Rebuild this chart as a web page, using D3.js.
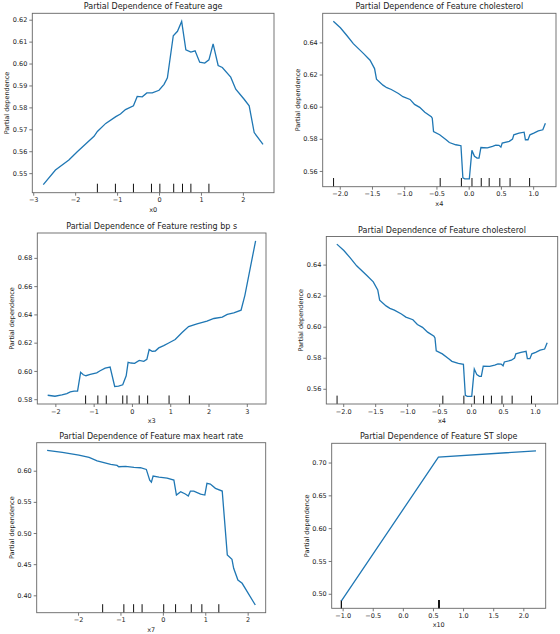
<!DOCTYPE html>
<html lang="en">
<head>
<meta charset="UTF-8">
<title>Partial Dependence</title>
<style>
  body { margin: 0; background: #fff; }
  svg text { font-family: "DejaVu Sans", sans-serif; fill: #222; }
</style>
</head>
<body>
<div id="chart"></div>
<script src="https://d3js.org/d3.v7.min.js"></script>
<script>
// ---- data ----
// age (x0)
var ageX = [-2.76, -2.47, -2.15, -1.95, -1.75, -1.55, -1.47, -1.27, -1.03, -0.92, -0.80, -0.61, -0.52, -0.40, -0.29, -0.16, 0.0, 0.12, 0.2, 0.34, 0.44, 0.54, 0.64, 0.76, 0.86, 0.97, 1.09, 1.19, 1.29, 1.41, 1.51, 1.71, 1.83, 2.03, 2.15, 2.27, 2.48];
var ageY = [0.5448, 0.5514, 0.556, 0.5598, 0.5633, 0.5668, 0.5690, 0.5727, 0.5758, 0.577, 0.579, 0.5807, 0.5850, 0.5848, 0.5866, 0.5866, 0.5878, 0.5905, 0.5935, 0.6127, 0.6147, 0.6192, 0.6063, 0.6052, 0.6058, 0.6006, 0.6002, 0.6017, 0.6090, 0.5991, 0.5982, 0.5938, 0.5883, 0.5837, 0.5807, 0.5685, 0.5631];
var ageDeciles = [-1.47, -1.04, -0.61, -0.18, 0.02, 0.35, 0.56, 0.76, 1.19];

// cholesterol (x4)
var cholX = [-2.10, -1.99, -1.89, -1.79, -1.63, -1.53, -1.46, -1.43, -1.33, -1.27, -1.20, -1.09, -1.02, -0.91, -0.84, -0.76, -0.68, -0.58, -0.565, -0.545, -0.45, -0.35, -0.30, -0.20, -0.12, -0.09, -0.06, 0.01, 0.05, 0.09, 0.13, 0.16, 0.19, 0.29, 0.37, 0.42, 0.47, 0.50, 0.52, 0.63, 0.68, 0.70, 0.78, 0.86, 0.88, 0.92, 0.95, 1.01, 1.08, 1.15, 1.19];
var cholY = [0.6532, 0.6491, 0.6443, 0.6392, 0.633, 0.6289, 0.6237, 0.6171, 0.6134, 0.6118, 0.6107, 0.6082, 0.6062, 0.6045, 0.6014, 0.5996, 0.5965, 0.5938, 0.5928, 0.5845, 0.5825, 0.5794, 0.5777, 0.5763, 0.5757, 0.5557, 0.5551, 0.5551, 0.5728, 0.5691, 0.5680, 0.5680, 0.5746, 0.5744, 0.5753, 0.5761, 0.5759, 0.5748, 0.5773, 0.5784, 0.5798, 0.5825, 0.5835, 0.5841, 0.5794, 0.5794, 0.5825, 0.5835, 0.5849, 0.5856, 0.5897];
var cholDeciles = [-2.096, -0.442, -0.113, 0.051, 0.195, 0.318, 0.483, 0.642, 0.945];

// resting bp s (x3)
var bpX = [-2.20, -2.01, -1.83, -1.70, -1.61, -1.51, -1.42, -1.34, -1.27, -1.20, -1.09, -0.92, -0.83, -0.70, -0.57, -0.45, -0.35, -0.24, -0.15, -0.10, -0.02, 0.07, 0.19, 0.31, 0.39, 0.45, 0.53, 0.61, 0.70, 0.83, 0.96, 1.13, 1.31, 1.48, 1.70, 1.96, 2.14, 2.36, 2.49, 2.66, 2.85, 2.95, 3.23];
var bpY = [0.5828, 0.5821, 0.5831, 0.5840, 0.5852, 0.5857, 0.5857, 0.5990, 0.5973, 0.5966, 0.5975, 0.5987, 0.6001, 0.6020, 0.6027, 0.5890, 0.5892, 0.5902, 0.5966, 0.6061, 0.6056, 0.6054, 0.6075, 0.6068, 0.6082, 0.6151, 0.6139, 0.6141, 0.6163, 0.6179, 0.6198, 0.6222, 0.6272, 0.6314, 0.6333, 0.6352, 0.6371, 0.6381, 0.6400, 0.6411, 0.6430, 0.6535, 0.6921];
var bpDeciles = [-1.21, -0.89, -0.67, -0.24, -0.13, 0.19, 0.41, 0.97, 1.50];

// max heart rate (x7)
var hrX = [-2.73, -2.37, -1.98, -1.74, -1.55, -1.23, -1.08, -1.04, -0.88, -0.68, -0.53, -0.39, -0.31, -0.27, -0.23, -0.09, 0.10, 0.26, 0.32, 0.42, 0.53, 0.60, 0.65, 0.73, 0.89, 0.99, 1.04, 1.12, 1.24, 1.40, 1.52, 1.63, 1.67, 1.77, 1.87, 2.18];
var hrY = [0.6326, 0.6294, 0.6251, 0.6214, 0.6160, 0.6102, 0.6086, 0.6064, 0.6070, 0.6053, 0.6048, 0.6021, 0.5850, 0.5818, 0.5914, 0.5898, 0.5882, 0.5850, 0.5610, 0.5663, 0.5626, 0.5594, 0.5674, 0.5674, 0.5626, 0.5610, 0.5797, 0.5786, 0.5717, 0.5674, 0.4647, 0.4578, 0.4433, 0.4246, 0.4193, 0.3845];
var hrDeciles = [-1.42, -0.92, -0.69, -0.49, 0.02, 0.30, 0.67, 0.92, 1.32];

// ST slope (x10)
var stX = [-1.02, 0.59, 2.21];
var stY = [0.4893, 0.7082, 0.7179];
var stDeciles = [-1.02, -1.02, -1.02, -1.02, 0.60, 0.60, 0.60, 0.60, 0.60];

// tick labels
var ticksInt5 = [-3, -2, -1, 0, 1, 2];
var ticksInt6 = [-2, -1, 0, 1, 2, 3];
var ticksInt4 = [-2, -1, 0, 1, 2];
var ticksHalfChol = [-2.0, -1.5, -1.0, -0.5, 0.0, 0.5, 1.0];
var ticksHalfSt = [-1.0, -0.5, 0.0, 0.5, 1.0, 1.5, 2.0];
var ageYTicks = [0.55, 0.56, 0.57, 0.58, 0.59, 0.60, 0.61, 0.62];
var cholYTicks = [0.56, 0.58, 0.60, 0.62, 0.64];
var bpYTicks = [0.58, 0.60, 0.62, 0.64, 0.66, 0.68];
var hrYTicks = [0.40, 0.45, 0.50, 0.55, 0.60];
var stYTicks = [0.50, 0.55, 0.60, 0.65, 0.70];

// ---- layout ----
var width = 560, height = 634;
var svg = d3.select("#chart").append("svg")
    .attr("width", width)
    .attr("height", height);

var panels = [
  {title: "Partial Dependence of Feature age", xlabel: "x0", x: ageX, y: ageY, dec: ageDeciles,
   xt: ticksInt5, xf: "d", yt: ageYTicks, yf: ".2f", box: [32.3, 13.3, 274, 192.7]},
  {title: "Partial Dependence of Feature cholesterol", xlabel: "x4", x: cholX, y: cholY, dec: cholDeciles,
   xt: ticksHalfChol, xf: ".1f", yt: cholYTicks, yf: ".2f", box: [322.7, 13.3, 556, 186.7]},
  {title: "Partial Dependence of Feature resting bp s", xlabel: "x3", x: bpX, y: bpY, dec: bpDeciles,
   xt: ticksInt6, xf: "d", yt: bpYTicks, yf: ".2f", box: [37.3, 233, 266, 404]},
  {title: "Partial Dependence of Feature cholesterol", xlabel: "x4", x: cholX, y: cholY, dec: cholDeciles,
   xt: ticksHalfChol, xf: ".1f", yt: cholYTicks, yf: ".2f", box: [326.3, 236.5, 557.7, 404]},
  {title: "Partial Dependence of Feature max heart rate", xlabel: "x7", x: hrX, y: hrY, dec: hrDeciles,
   xt: ticksInt4, xf: "d", yt: hrYTicks, yf: ".2f", box: [36.7, 442.7, 265.7, 612.7]},
  {title: "Partial Dependence of Feature ST slope", xlabel: "x10", x: stX, y: stY, dec: stDeciles,
   xt: ticksHalfSt, xf: ".1f", yt: stYTicks, yf: ".2f", box: [331.7, 443.3, 545.7, 608.3]}
];

// matplotlib style 5% margins
function padded(ext) {
  var m = (ext[1] - ext[0]) * 0.05;
  return [ext[0] - m, ext[1] + m];
}

panels.forEach(function(p) {
  var L = p.box[0], T = p.box[1], R = p.box[2], B = p.box[3];
  var g = svg.append("g");

  var x = d3.scaleLinear().domain(padded(d3.extent(p.x))).range([L, R]);
  var y = d3.scaleLinear().domain(padded(d3.extent(p.y))).range([B, T]);

  var xAxis = g.append("g")
      .attr("transform", "translate(0," + B + ")")
      .call(d3.axisBottom(x).tickValues(p.xt).tickFormat(d3.format(p.xf)).tickSize(3).tickPadding(2));
  var yAxis = g.append("g")
      .attr("transform", "translate(" + L + ",0)")
      .call(d3.axisLeft(y).tickValues(p.yt).tickFormat(d3.format(p.yf)).tickSize(3).tickPadding(2));
  [xAxis, yAxis].forEach(function(a) {
    a.select(".domain").remove();
    a.selectAll("line").attr("stroke", "#555").attr("stroke-width", 0.8);
    a.selectAll("text").attr("font-size", 6.5).attr("fill", "#222")
      .attr("font-family", "DejaVu Sans, sans-serif");
  });

  // deciles
  var dh = (B - T) * 0.05;
  g.selectAll(".dec").data(p.dec).enter().append("line")
      .attr("x1", function(d) { return x(d); })
      .attr("x2", function(d) { return x(d); })
      .attr("y1", B)
      .attr("y2", B - dh)
      .attr("stroke", "#111")
      .attr("stroke-width", 1);

  // curve
  var line = d3.line()
      .x(function(d, i) { return x(p.x[i]); })
      .y(function(d) { return y(d); });
  g.append("path")
      .datum(p.y)
      .attr("d", line)
      .attr("fill", "none")
      .attr("stroke", "#1f77b4")
      .attr("stroke-width", 1.3);

  // frame
  g.append("rect")
      .attr("x", L).attr("y", T)
      .attr("width", R - L).attr("height", B - T)
      .attr("fill", "none")
      .attr("stroke", "#666")
      .attr("stroke-width", 0.9);

  // labels
  g.append("text")
      .attr("x", (L + R) / 2)
      .attr("y", T - 4)
      .attr("text-anchor", "middle")
      .attr("font-size", 8)
      .text(p.title);
  g.append("text")
      .attr("x", (L + R) / 2)
      .attr("y", B + 19)
      .attr("text-anchor", "middle")
      .attr("font-size", 6.5)
      .text(p.xlabel);
  g.append("text")
      .attr("transform", "translate(" + (L - 23) + "," + ((T + B) / 2) + ") rotate(-90)")
      .attr("text-anchor", "middle")
      .attr("font-size", 6.5)
      .text("Partial dependence");
});
</script>
</body>
</html>
